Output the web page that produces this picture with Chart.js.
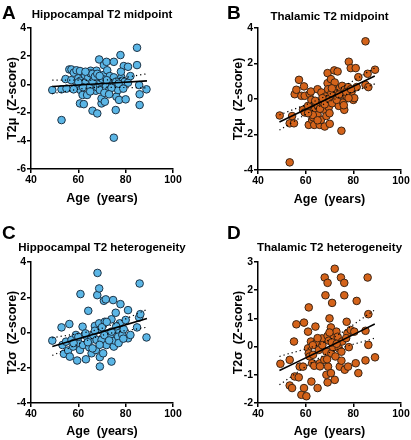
<!DOCTYPE html>
<html>
<head>
<meta charset="utf-8">
<script src="https://cdn.jsdelivr.net/npm/chart.js@4"></script>
<style>
  body { margin: 0; background: #fff; }
  #wrap { position: relative; width: 411px; height: 440px; font-family: "Liberation Sans", Arial, sans-serif; }
  canvas { position: absolute; }
  .lbl { position: absolute; font-weight: bold; font-size: 19px; line-height: 19px; color: #000; }
</style>
</head>
<body>
<div id="wrap">
  <canvas id="cA" width="205" height="220" style="left:0;top:0"></canvas>
  <canvas id="cB" width="206" height="220" style="left:205px;top:0"></canvas>
  <canvas id="cC" width="205" height="220" style="left:0;top:220px"></canvas>
  <canvas id="cD" width="206" height="220" style="left:205px;top:220px"></canvas>
  <div class="lbl" style="left:2px;top:3px">A</div>
  <div class="lbl" style="left:227px;top:3px">B</div>
  <div class="lbl" style="left:2px;top:223px">C</div>
  <div class="lbl" style="left:227px;top:223px">D</div>
</div>
<script>
// Datos (edad en años, valor en Z-score)
const hippoMidAge = [49, 52.9, 52.9, 55, 54.6, 56.2, 57.1, 58.1, 59.2, 59, 60, 60.7, 60.9, 60.9, 60.7, 62.3, 61.8, 63.7, 62.8, 62.8,
  64.2, 64.6, 65.2, 65.2, 66, 66, 67.7, 68, 67.4, 68, 68.8, 69.1, 69.1, 69.4, 69.8, 69.8, 70.5, 70.8, 71.2, 71.6,
  71.9, 72.2, 73, 73.3, 74, 75, 75, 75.4, 75.8, 76.1, 76.4, 76.8, 77.2, 77.8, 78.2, 78.6, 79.2, 79.6, 80, 81,
  81, 82, 84.8, 84.8, 85.7, 85.9, 85.9, 88.8,
  57, 58, 63, 66, 67, 70, 71, 72, 74, 75, 76, 77, 79, 65, 68, 69, 73, 62, 60, 78];
const hippoMidZ = [-0.4, -2.53, -0.35, -0.3, 0.38, 1.06, 1.06, 0.83, 1.0, -0.2, 0.43, 0.95, 0.26, -0.4, -1.35, -1.4, -0.75, -0.75, 0.12, 0.66,
  0.5, -0.17, 0.97, 0.78, 0.19, -1.87, 0.97, -2.06, -0.45, -0.21, 1.77, -0.05, -0.4, 0.19, -1.35, -1.0, 0.66, 1.37, -1.23, -0.17,
  1.6, 1.0, -0.4, 0.59, 0.19, 1.6, -3.78, 0.35, -1.82, -0.87, -0.05, -0.4, -1.1, 2.08, 0.5, 0.26, 1.3, 0.19, -1.06, 1.25,
  0.12, 0.59, 2.6, 1.37, -0.05, -0.7, -1.46, -0.35,
  0.3, -0.35, 0.9, 0.75, 0.55, 0.4, -0.6, 0.3, -0.25, 0.5, 0.2, 0.05, -0.3, -0.5, 0.75, 0.6, -0.7, -0.2, 0.15, 0.9];

const thalMidAge = [49.1, 53.3, 53.3, 55.1, 54.3, 55.4, 56.1, 57.2, 58.2, 59.3, 59.6, 58.9, 59.6, 61, 61.3, 61.7, 62.2, 62.4, 62.4, 62.7,
  63.1, 63.6, 63.8, 64.3, 65, 65, 65.2, 65.9, 66.4, 66.6, 67.3, 67.8, 68, 68.3, 68.7, 69.2, 69.2, 69.4, 69.7, 69.7,
  70.1, 70.6, 70.8, 71.1, 72, 72.2, 72.5, 72.9, 73.4, 73.9, 74.3, 75, 75, 75.3, 75.7, 76.2, 76.4, 77.2, 77.8, 78.1,
  78.9, 79.3, 80, 80.4, 81, 81.4, 82.1, 85.1, 85.1, 86, 86.3, 89.1,
  64, 66, 67, 70, 71, 73, 74, 76, 77, 78, 79, 68, 63, 61, 65];
const thalMidZ = [-0.93, -3.57, -1.37, -1.37, -0.96, 0.27, 0.52, 1.08, 0.18, 0.71, 0.18, -0.61, -0.76, -0.39, -1.46, 0.29, 0.42, -0.05, -0.76, -1.18,
  -1.03, -1.46, -0.61, -0.24, 0.55, -0.89, -0.42, -1.46, -1.18, 0.37, -0.24, -0.61, -1.55, 0.14, -0.96, 1.46, 0.89, 0.55, -0.01, -0.46,
  -1.4, 1.12, 0.33, -0.24, 1.61, 0.93, 0.55, 0.05, 1.55, -0.39, 0.61, -1.79, 0.24, 0.74, -0.2, -0.61, 0.52, 0.14, 0.67, 2.1,
  1.74, 0.42, -0.05, 0.05, 1.74, 0.67, 1.23, 3.25, 0.8, 1.42, 0.67, 1.65,
  -0.1, -0.55, 0.05, -0.8, 0.6, -0.05, 0.25, -0.35, 0.4, 0.05, 0.55, -0.3, -0.9, -0.8, -1.2];

const hippoHetAge = [49, 52.9, 53.3, 53.9, 54.8, 55.7, 56.2, 56.4, 57.1, 57.8, 59, 59.5, 60, 60.7, 60.9, 61.8, 62, 62.8, 63.2, 63.7,
  64.2, 64.6, 65.2, 65.6, 66.3, 67, 67.4, 67.7, 68, 68.1, 68.8, 68.8, 69.1, 69.1, 69.4, 69.8, 70.5, 70.8, 71.6, 71.2,
  71.9, 72.6, 73.3, 74, 74, 74.7, 75, 75.4, 75.8, 76.1, 76.8, 77.5, 77.8, 78.6, 79.2, 80, 81, 81, 82, 84.8,
  85.7, 85.9, 86.2, 88.8,
  58, 60, 63, 64, 66, 67, 69, 70, 71, 72, 73, 74, 76, 77, 79];
const hippoHetZ = [-0.46, 0.29, -0.71, -1.21, -0.52, -1.02, 0.48, -1.37, -0.42, -0.8, -0.14, -1.59, -0.57, -0.99, 2.18, 0.33, -0.71, -0.14, -1.52, -0.24,
  1.23, -0.84, -0.42, -1.18, -0.14, 0.37, -0.99, -0.42, 2.12, 3.38, 2.5, 0.52, -1.93, -1.4, 0.14, -0.42, -1.18, 1.8, 1.88, 0.61,
  -0.71, -0.05, -0.24, 0.75, -1.65, 1.84, -0.8, -0.46, 1.12, 0.14, -0.24, 0.52, 1.61, -0.14, 0.18, 0.71, 1.27, -0.33, -0.14, 0.29,
  0.85, 2.78, 1.04, -0.28,
  -0.6, -0.25, -0.05, -0.55, -0.9, 0.1, -0.7, 0.3, -0.15, 0.6, -0.45, 0.05, 0.35, -0.6, -0.35];

const thalHetAge = [49.4, 53.3, 53.3, 54.3, 55.1, 55.4, 56.1, 57.1, 57.5, 58.2, 58.9, 59.3, 59.3, 60.3, 61.3, 61, 61, 61.3, 61.7, 62.2,
  62.4, 62.7, 63.1, 63.6, 64.1, 64.5, 65, 65.5, 65.9, 66.9, 67.8, 68, 68.3, 68.7, 68.7, 69.2, 69.2, 69.2, 69.4, 69.7,
  70, 70.6, 70.6, 70.8, 71.1, 71.5, 71.9, 72.2, 72.2, 72.5, 72.9, 73.4, 73.9, 74.3, 74.8, 75, 75.3, 76.2, 76.2, 76.4,
  77.2, 77.5, 77.8, 78.1, 78.9, 80.4, 81, 81.4, 82.1, 85.1, 85.1, 86, 86.3, 86.3, 89.1,
  66, 67, 69, 71, 73, 75, 77, 70, 63, 65];
const thalHetZ = [-0.61, -0.47, -1.38, -1.47, 0.18, -1.06, 0.79, -1.09, -0.71, -1.71, -0.71, 0.85, -1.47, -1.76, 1.39, 0.53, -0.06, -0.24, -0.35, 0.18,
  -1.24, -0.59, -0.29, -0.68, 0.71, 0.14, -1.47, -0.12, -0.59, 0.29, -0.47, 2.45, 1.82, -0.18, -1.0, 0.38, 2.26, -1.27, -0.71, 0.21,
  1.0, 0.68, -0.94, -0.24, 1.55, -0.02, 0.35, 2.76, -1.18, -0.35, 0.53, 0.35, -0.06, -0.71, 2.45, -0.18, 0.18, 1.82, 2.26, -0.82,
  0.88, 0.47, -0.71, -0.02, 0.59, 0.53, -0.59, 1.62, -0.94, 0.56, -0.49, 2.45, 1.15, 0.06, -0.38,
  -0.7, 0.05, -0.45, 0.15, 0.1, -0.5, 0.3, 0.5, 0.05, 0.3];

// Rectas de regresión e intervalos de confianza (extremos y centro)
const fitAges = [49, 69, 89];
const fitA = [-0.15, 0.05, 0.25], upA = [0.3, 0.3, 0.75], loA = [-0.65, -0.2, -0.25];
const fitB = [-1.3, 0.0, 1.3], upB = [-0.9, 0.2, 1.75], loB = [-1.75, -0.2, 0.85];
const fitC = [-0.8, 0.0, 0.8], upC = [-0.3, 0.2, 1.3], loC = [-1.3, -0.2, 0.3];
const fitD = [-0.85, -0.03, 0.8], upD = [-0.35, 0.2, 1.3], loD = [-1.35, -0.25, 0.3];

const ejeX = [40, 60, 80, 100];

const azul = { fill: "#5bb6e6", edge: "#1d3346" };
const naranja = { fill: "#d4631a", edge: "#3b2414" };

// Título centrado sobre el área del gráfico
const tituloPanel = {
  id: "tituloPanel",
  afterDraw(chart, args, opts) {
    const ctx = chart.ctx;
    const ca = chart.chartArea;
    ctx.save();
    ctx.font = "bold 11.5px 'Liberation Sans', Arial, sans-serif";
    ctx.fillStyle = "#000";
    ctx.textAlign = "center";
    ctx.textBaseline = "middle";
    ctx.fillText(opts.text, (ca.left + ca.right) / 2, opts.y);
    ctx.restore();
  }
};

function puntos(xs, ys) {
  return xs.map((x, i) => ({ x: x, y: ys[i] }));
}

function linea(ys, dotted) {
  return {
    type: "line",
    data: puntos(fitAges, ys),
    borderColor: "#000",
    borderWidth: dotted ? 1.2 : 1.6,
    borderDash: dotted ? [1.2, 3] : [],
    pointRadius: 0,
    fill: false,
    cubicInterpolationMode: "monotone",
    order: 0
  };
}

function crearPanel(id, cfg) {
  const fuente = { family: "'Liberation Sans', Arial, sans-serif", weight: "bold" };
  new Chart(document.getElementById(id), {
    type: "scatter",
    plugins: [tituloPanel],
    data: {
      datasets: [
        linea(cfg.fit, false),
        linea(cfg.up, true),
        linea(cfg.lo, true),
        {
          data: puntos(cfg.ages, cfg.vals),
          backgroundColor: cfg.color.fill,
          borderColor: cfg.color.edge,
          borderWidth: 1,
          pointRadius: 3.8,
          order: 1
        }
      ]
    },
    options: {
      responsive: false,
      animation: false,
      layout: { padding: { left: cfg.padL, right: cfg.padR, top: cfg.padT, bottom: 0 } },
      plugins: {
        legend: { display: false },
        tooltip: { enabled: false },
        title: { display: false },
        tituloPanel: { text: cfg.title, y: cfg.titleY }
      },
      scales: {
        x: {
          type: "linear",
          min: 40, max: 100,
          afterFit: s => { s.height = cfg.axisH; },
          afterBuildTicks: s => { s.ticks = ejeX.map(v => ({ value: v })); },
          border: { color: "#000", width: 1.5 },
          grid: { drawOnChartArea: false, drawTicks: true, tickLength: 4, color: "#000", lineWidth: 1.5 },
          ticks: { color: "#000", font: { ...fuente, size: 10.5 }, padding: 1, maxRotation: 0 },
          title: { display: true, text: "Age  (years)", color: "#000", font: { ...fuente, size: 12.5 }, padding: { top: 0, bottom: cfg.xTitlePad } }
        },
        y: {
          min: cfg.ymin, max: cfg.ymax,
          afterFit: s => { s.width = cfg.axisW; },
          border: { color: "#000", width: 1.5 },
          grid: { drawOnChartArea: false, drawTicks: true, tickLength: 4, color: "#000", lineWidth: 1.5 },
          ticks: { stepSize: cfg.step, color: "#000", font: { ...fuente, size: 10.5 }, padding: 1 },
          title: { display: true, text: cfg.ytitle, color: "#000", font: { ...fuente, size: 12.5 }, padding: { top: 0, bottom: 0 } }
        }
      }
    }
  });
}

crearPanel("cA", {
  title: "Hippocampal T2 midpoint", ytitle: "T2\u03bc  (Z-score)", titleY: 15,
  ages: hippoMidAge, vals: hippoMidZ, fit: fitA, up: upA, lo: loA, color: azul,
  ymin: -6, ymax: 4, step: 2,
  padL: 5, axisW: 26, padR: 32, padT: 28, axisH: 51, xTitlePad: 14
});
crearPanel("cB", {
  title: "Thalamic T2 midpoint", ytitle: "T2\u03bc  (Z-score)", titleY: 17,
  ages: thalMidAge, vals: thalMidZ, fit: fitB, up: upB, lo: loB, color: naranja,
  ymin: -4, ymax: 4, step: 2,
  padL: 26, axisW: 27, padR: 10, padT: 28, axisH: 50, xTitlePad: 13
});
crearPanel("cC", {
  title: "Hippocampal T2 heterogeneity", ytitle: "T2\u03c3  (Z-score)", titleY: 28,
  ages: hippoHetAge, vals: hippoHetZ, fit: fitC, up: upC, lo: loC, color: azul,
  ymin: -4, ymax: 4, step: 2,
  padL: 5, axisW: 26, padR: 32, padT: 42, axisH: 37, xTitlePad: 1
});
crearPanel("cD", {
  title: "Thalamic T2 heterogeneity", ytitle: "T2\u03c3  (Z-score)", titleY: 28,
  ages: thalHetAge, vals: thalHetZ, fit: fitD, up: upD, lo: loD, color: naranja,
  ymin: -2, ymax: 3, step: 1,
  padL: 26, axisW: 27, padR: 10, padT: 42, axisH: 37, xTitlePad: 1
});
</script>
</body>
</html>
